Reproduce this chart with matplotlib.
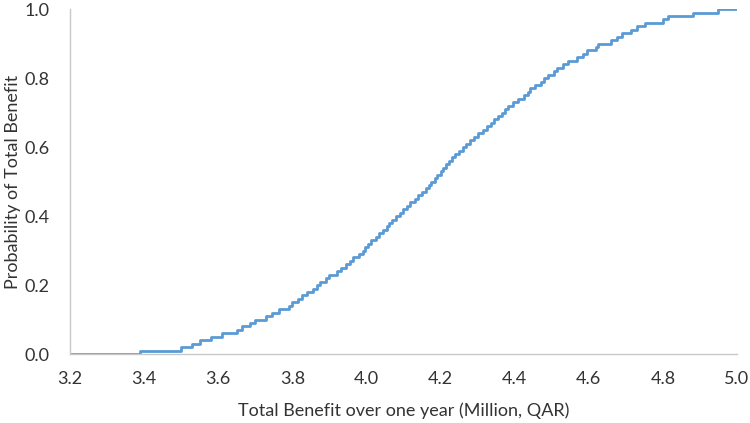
import numpy as np
from matplotlib import pyplot as plt

plt.rcParams['font.family'] = ['Lato', 'DejaVu Sans']

# sorted simulated total benefit values (Million QAR)
benefit = [3.39, 3.50, 3.53, 3.55, 3.58, 3.61, 3.65, 3.665, 3.685, 3.70,
           3.73, 3.745, 3.765, 3.79, 3.80, 3.815, 3.825, 3.84, 3.855, 3.866,
           3.875, 3.89, 3.90, 3.92, 3.93, 3.945, 3.955, 3.965, 3.98, 3.99,
           3.997, 4.005, 4.012, 4.025, 4.035, 4.045, 4.055, 4.062, 4.07, 4.08,
           4.09, 4.10, 4.11, 4.118, 4.13, 4.14, 4.15, 4.16, 4.168, 4.175,
           4.185, 4.19, 4.20, 4.207, 4.215, 4.222, 4.23, 4.24, 4.25, 4.26,
           4.27, 4.28, 4.29, 4.30, 4.315, 4.325, 4.335, 4.345, 4.355, 4.365,
           4.375, 4.383, 4.395, 4.41, 4.425, 4.435, 4.442, 4.455, 4.47, 4.48,
           4.49, 4.505, 4.515, 4.53, 4.545, 4.567, 4.585, 4.594, 4.62, 4.625,
           4.66, 4.675, 4.69, 4.715, 4.729, 4.751, 4.80, 4.815, 4.882, 4.949]

x_start = 3.2
x_end = 5.0

# empirical cumulative probability
n = len(benefit)
prob = list(np.arange(1, n + 1) / n)

xs = [x_start] + benefit + [x_end]
ys = [0.0] + prob + [1.0]

fig = plt.figure(figsize=(7.5, 4.23), dpi=100)
ax = fig.add_axes([0.0933, 0.163, 0.8894, 0.8156])

ax.step(xs, ys, where='post', color='#5B9BD5', linewidth=2.0)

ax.set_xlim(3.2, 5.0)
ax.set_ylim(0, 1.0)
ax.set_xticks(np.arange(3.2, 5.01, 0.2))
ax.set_yticks(np.arange(0, 1.01, 0.2))
ax.xaxis.set_major_formatter(plt.FormatStrFormatter('%.1f'))
ax.yaxis.set_major_formatter(plt.FormatStrFormatter('%.1f'))
ax.tick_params(length=0, labelsize=13, colors='#333333')
ax.tick_params(axis='x', pad=12)
ax.tick_params(axis='y', pad=15)

for s in ['top', 'right']:
    ax.spines[s].set_visible(False)
for s in ['left', 'bottom']:
    ax.spines[s].set_color('#C8C8C8')
    ax.spines[s].set_linewidth(1)

ax.set_xlabel('Total Benefit over one year (Million, QAR)', fontsize=13,
              color='#333333', labelpad=11)
ax.set_ylabel('Probability of Total Benefit', fontsize=13, color='#333333',
              labelpad=2)

plt.savefig('out.png', dpi=100)
